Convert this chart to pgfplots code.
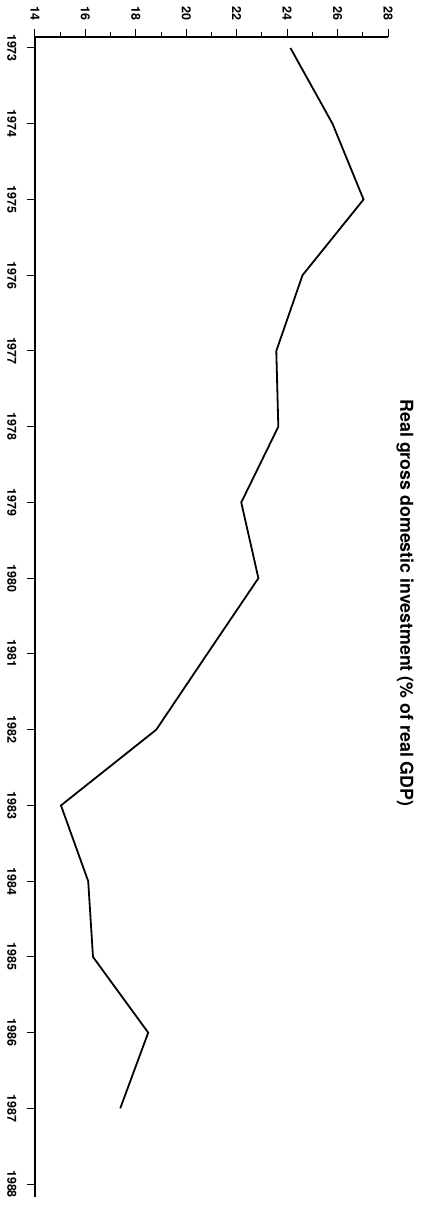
\documentclass[border=0pt]{standalone}
\usepackage{fontspec}
\setmainfont{TeX Gyre Heros}
\usepackage{pgfplots}
\pgfplotsset{compat=1.18}

\begin{document}
\begin{tikzpicture}
  \begin{axis}[
      name=ax,
      scale only axis,
      width=353pt, height=1160pt,
      xmin=14, xmax=28,
      ymin=1972.855, ymax=1988.17,
      y dir=reverse,
      axis x line*=top,
      axis y line*=left,
      axis line style={line width=1.8pt},
      xtick={14,16,...,28},
      minor x tick num=1,
      ytick={1973,1974,...,1988},
      tick align=outside,
      major tick length=8pt,
      minor tick length=5pt,
      tick style={black, line width=1pt},
      /pgf/number format/1000 sep={},
      /pgf/number format/assume math mode=true,
      tick label style={font=\bfseries\fontsize{12.5}{12.5}\selectfont},
      xticklabel style={rotate=-90, anchor=east},
      yticklabel style={rotate=-90, anchor=north},
      xticklabel shift=5pt,
      yticklabel shift=7pt,
    ]
    \addplot[black, line width=1.8pt] coordinates {
      (24.13,1973) (25.80,1974) (27.03,1975) (24.61,1976) (23.57,1977)
      (23.65,1978) (22.18,1979) (22.86,1980) (20.83,1981) (18.81,1982)
      (15.03,1983) (16.11,1984) (16.30,1985) (18.49,1986) (17.38,1987)
    };
  \end{axis}
  \node[rotate=-90, font=\bfseries\fontsize{17.8}{18}\selectfont]
    at ([xshift=17pt, yshift=14pt]ax.east)
    {Real gross domestic investment (\% of real GDP)};
  \path (ax.north west) ++(-35pt,37pt) coordinate (bbA);
  \path (ax.south east) ++(36pt,-19pt) coordinate (bbB);
  \pgfresetboundingbox
  \path (bbA) rectangle (bbB);
\end{tikzpicture}
\end{document}
